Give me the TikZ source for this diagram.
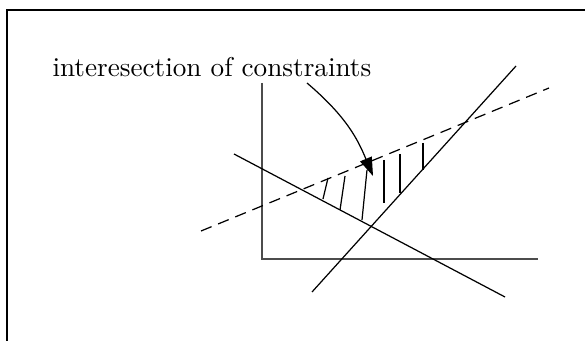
\documentclass[tikz,border=0pt]{standalone}
\usepackage{tikz}
\usetikzlibrary{arrows.meta}

\begin{document}
\begin{tikzpicture}[
    x=0.3676pt, y=-0.3676pt,
    >={Triangle[length=6.8pt,width=4.6pt]},
    frm/.style={line width=0.55pt},
    axis/.style={line width=0.6pt, black!70},
    cons/.style={line width=0.45pt},
    dcons/.style={line width=0.45pt, dash pattern=on 4.2pt off 2.6pt},
    hatch/.style={line width=0.45pt},
    lab/.style={inner sep=0pt, anchor=base west},
  ]
  \useasboundingbox (0,0) rectangle (585,341);

  %% ---- frame --------------------------------------------------------
  \draw[frm] (585,10) -- (7,10) -- (7,341);

  %% ---- axes ---------------------------------------------------------
  \coordinate (O)  at (262,259);
  \coordinate (yT) at (262,83);
  \coordinate (xR) at (538,259);
  \draw[axis] (yT) -- (O) -- (xR);

  %% ---- constraints --------------------------------------------------
  \coordinate (a1) at (234,154);
  \coordinate (a2) at (505,297);
  \coordinate (b1) at (312,292);
  \coordinate (b2) at (516,66);
  \coordinate (c1) at (201,231);
  \coordinate (c2) at (549,88);
  \draw[cons]  (a1) -- (a2);
  \draw[cons]  (b1) -- (b2);
  \draw[dcons] (c1) -- (c2);

  %% ---- hatching of the feasible part --------------------------------
  \draw[hatch] (328,178) -- (323,199);
  \draw[hatch] (345,176) -- (340,210);
  \draw[hatch] (367,170) -- (362,220);
  \draw[hatch] (384,160) -- (384,203);
  \draw[hatch] (400,154) -- (400,193);
  \draw[hatch] (423,143) -- (423,170);

  %% ---- label and pointer --------------------------------------------
  \node[lab] (L) at (52,77) {interesection of constraints};
  \coordinate (p0) at (307,83);
  \coordinate (p1) at (373,176);
  \draw[cons,->] (p0) .. controls (347,117) and (358,140) .. (p1);

\end{tikzpicture}
\end{document}
